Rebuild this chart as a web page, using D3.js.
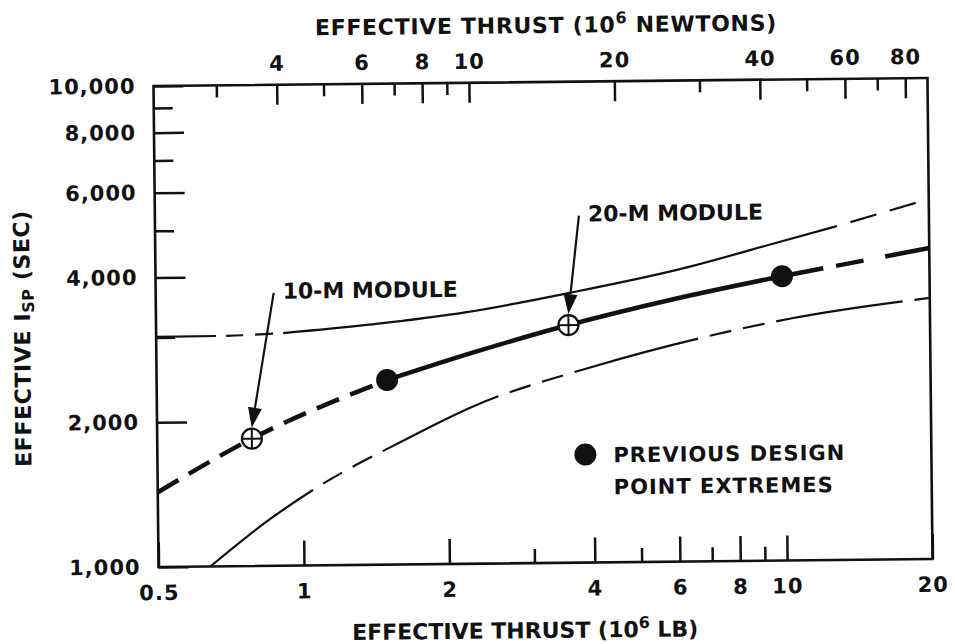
<!DOCTYPE html>
<html>
<head>
<meta charset="utf-8">
<script src="https://cdn.jsdelivr.net/npm/d3@7"></script>
<style>
  body { margin: 0; background: #fff; }
  svg text { font-family: "DejaVu Sans", sans-serif; font-weight: bold; fill: #111; }
  .axis text { font-size: 21px; letter-spacing: 1px; }
</style>
</head>
<body>
<div id="chart"></div>
<script>
//
// values (thrust in 10^6 lb, Isp in sec)
//
var lbTicks = [0.5, 1, 2, 4, 6, 8, 10, 20];
var lbMinor = [3, 5, 7, 9];
var newtonTicks = [4, 6, 8, 10, 20, 40, 60, 80];
var newtonMinor = [3, 5, 7, 9, 30, 50, 70];
var ispTicks = [1000, 2000, 4000, 6000, 8000, 10000];
var ispMinor = [3000, 5000, 7000, 9000];

var nominalCurve = [[0.5, 1430], [0.785, 1840], [1.5, 2420], [2.24, 2740], [3.57, 3120], [5.8, 3500], [9.9, 3900], [20, 4430]];
var upperCurve = [[0.5, 3010], [0.7, 3015], [0.916, 3045], [1.4, 3160], [2.2, 3335], [3.6, 3640], [6.0, 4040], [9.83, 4600], [12.9, 4945], [20, 5600]];
var lowerCurve = [[0.64, 1000], [0.83, 1227], [1.08, 1462], [1.61, 1806], [2.25, 2121], [4.0, 2553], [7.0, 2943], [10.36, 3187], [20, 3490]];

var nominalSolid = [1.5, 9.9];
var upperSolid = [0.916, 12.9];

var designPoints = [[1.5, 2420], [9.9, 3900]];
var moduleNames = ["10-M MODULE", "20-M MODULE"];
var modulePoints = [[0.785, 1840], [3.57, 3120]];

var LB_TO_N = 4.448;

//
// layout
//
var W = 955, H = 644;
var plot = {left: 156, right: 930, top: 82, bottom: 563};

var x = d3.scaleLog().domain([0.5, 20]).range([plot.left, plot.right]);
var xN = d3.scaleLog().domain([0.5 * LB_TO_N, 20 * LB_TO_N]).range([plot.left, plot.right]);
var y = d3.scaleLog().domain([1000, 10000]).range([plot.bottom, plot.top]);

var svg = d3.select("#chart").append("svg")
	.attr("width", W)
	.attr("height", H);

svg.append("rect").attr("width", W).attr("height", H).attr("fill", "#fff");

// the scanned original sits slightly askew
var g = svg.append("g").attr("transform", "rotate(-0.6 543 322)");

function tidy(sel, w) {
	sel.select(".domain").remove();
	sel.selectAll(".tick line").attr("stroke", "#111").attr("stroke-width", w);
	sel.selectAll(".tick text").attr("fill", "#111");
}

//
// bottom axis (10^6 lb)
//
g.append("g").attr("class", "axis")
	.attr("transform", "translate(0," + plot.bottom + ")")
	.call(d3.axisBottom(x).tickValues(lbTicks).tickFormat(function(d) { return d; })
		.tickSize(-25).tickPadding(18))
	.call(tidy, 2.5);
g.append("g").attr("class", "axis")
	.attr("transform", "translate(0," + plot.bottom + ")")
	.call(d3.axisBottom(x).tickValues(lbMinor).tickFormat("").tickSize(-14))
	.call(tidy, 2.5);

//
// top axis (10^6 newtons)
//
g.append("g").attr("class", "axis")
	.attr("transform", "translate(0," + plot.top + ")")
	.call(d3.axisTop(xN).tickValues(newtonTicks).tickFormat(function(d) { return d; })
		.tickSize(-20).tickPadding(14))
	.call(tidy, 2.5);
g.append("g").attr("class", "axis")
	.attr("transform", "translate(0," + plot.top + ")")
	.call(d3.axisTop(xN).tickValues(newtonMinor).tickFormat("").tickSize(-12))
	.call(tidy, 2.5);

//
// left axis (Isp)
//
g.append("g").attr("class", "axis")
	.attr("transform", "translate(" + plot.left + ",0)")
	.call(d3.axisLeft(y).tickValues(ispTicks).tickFormat(d3.format(","))
		.tickSize(-30).tickPadding(18))
	.call(tidy, 2.5);
g.append("g").attr("class", "axis")
	.attr("transform", "translate(" + plot.left + ",0)")
	.call(d3.axisLeft(y).tickValues(ispMinor).tickFormat("").tickSize(-19))
	.call(tidy, 2.5);

//
// frame
//
g.append("rect")
	.attr("x", plot.left).attr("y", plot.top)
	.attr("width", plot.right - plot.left)
	.attr("height", plot.bottom - plot.top)
	.attr("fill", "none")
	.attr("stroke", "#111")
	.attr("stroke-width", 2.6);

//
// axis titles
//
var tTop = g.append("text")
	.attr("x", 549).attr("y", 33)
	.attr("text-anchor", "middle")
	.style("font-size", "22px")
	.style("letter-spacing", "0.7px");
tTop.append("tspan").text("EFFECTIVE THRUST (10");
tTop.append("tspan").attr("dy", -9).style("font-size", "16px").text("6");
tTop.append("tspan").attr("dy", 9).text(" NEWTONS)");

var tBot = g.append("text")
	.attr("x", 522).attr("y", 638)
	.attr("text-anchor", "middle")
	.style("font-size", "22px");
tBot.append("tspan").text("EFFECTIVE THRUST (10");
tBot.append("tspan").attr("dy", -9).style("font-size", "16px").text("6");
tBot.append("tspan").attr("dy", 9).text(" LB)");

var tLeft = g.append("text")
	.attr("transform", "translate(30,333) rotate(-90)")
	.attr("text-anchor", "middle")
	.style("font-size", "22px")
	.style("letter-spacing", "0.6px");
tLeft.append("tspan").text("EFFECTIVE I");
tLeft.append("tspan").attr("dy", 4).style("font-size", "16px").text("SP");
tLeft.append("tspan").attr("dy", -4).text(" (SEC)");

//
// curves
//
var line = d3.line()
	.x(function(d) { return x(d[0]); })
	.y(function(d) { return y(d[1]); })
	.curve(d3.curveMonotoneX);

function part(pts, lo, hi) {
	return pts.filter(function(d) { return d[0] >= lo && d[0] <= hi; });
}

function drawPart(pts, width, dash) {
	g.append("path")
		.attr("d", line(pts))
		.attr("fill", "none")
		.attr("stroke", "#111")
		.attr("stroke-width", width)
		.attr("stroke-dasharray", dash);
}

// lower limit: long-short-short dashes all along
drawPart(lowerCurve, 2.2, "128,12,22,12,22,12");

// upper limit: dashed at both ends
drawPart(part(upperCurve, 0, upperSolid[0]), 2.2, "60,10,17,12,18,12");
drawPart(part(upperCurve, upperSolid[0], upperSolid[1]), 2.2, null);
drawPart(part(upperCurve, upperSolid[1], 100), 2.2, "0,14,27,14,27,14,60");

// nominal (heavy) curve
drawPart(part(nominalCurve, 0, nominalSolid[0]), 4.5, "24,12");
drawPart(part(nominalCurve, nominalSolid[0], nominalSolid[1]), 4.5, null);
drawPart(part(nominalCurve, nominalSolid[1], 100), 4.5, "42,13,28,22,60");

//
// previous design points
//
g.selectAll(".design")
	.data(designPoints)
	.enter().append("circle")
	.attr("class", "design")
	.attr("cx", function(d) { return x(d[0]); })
	.attr("cy", function(d) { return y(d[1]); })
	.attr("r", 11)
	.attr("fill", "#111");

//
// module points: open circle with cross
//
var mod = g.selectAll(".module")
	.data(modulePoints)
	.enter().append("g")
	.attr("class", "module")
	.attr("transform", function(d) { return "translate(" + x(d[0]) + "," + y(d[1]) + ")"; });
mod.append("circle").attr("r", 10).attr("fill", "#fff").attr("stroke", "#111").attr("stroke-width", 2.2);
mod.append("line").attr("x1", -10).attr("x2", 10).attr("stroke", "#111").attr("stroke-width", 2);
mod.append("line").attr("y1", -10).attr("y2", 10).attr("stroke", "#111").attr("stroke-width", 2);

//
// module labels and arrows
//
var labelPos = [[283, 296], [589, 222]];
var arrowOff = [-9, -6];

moduleNames.forEach(function(name, i) {
	var lx = labelPos[i][0], ly = labelPos[i][1];
	g.append("text")
		.attr("x", lx).attr("y", ly)
		.style("font-size", "22px")
		.text(name);

	var sx = lx + arrowOff[0], sy = ly + arrowOff[1];
	var tx = x(modulePoints[i][0]), ty = y(modulePoints[i][1]) - 11;
	var dx = tx - sx, dy = ty - sy, len = Math.sqrt(dx * dx + dy * dy);
	var ux = dx / len, uy = dy / len;
	var bx = tx - ux * 20, by = ty - uy * 20;

	g.append("line")
		.attr("x1", sx).attr("y1", sy).attr("x2", bx).attr("y2", by)
		.attr("stroke", "#111").attr("stroke-width", 2.2);
	g.append("path")
		.attr("d", "M" + tx + "," + ty +
			"L" + (bx - uy * 7) + "," + (by + ux * 7) +
			"L" + (bx + uy * 7) + "," + (by - ux * 7) + "Z")
		.attr("fill", "#111");
});

//
// legend
//
g.append("circle").attr("cx", 584).attr("cy", 455).attr("r", 11).attr("fill", "#111");
g.append("text").attr("x", 612).attr("y", 463).style("font-size", "21px").style("letter-spacing", "1px").text("PREVIOUS DESIGN");
g.append("text").attr("x", 612).attr("y", 495).style("font-size", "21px").style("letter-spacing", "1px").text("POINT EXTREMES");
</script>
</body>
</html>
